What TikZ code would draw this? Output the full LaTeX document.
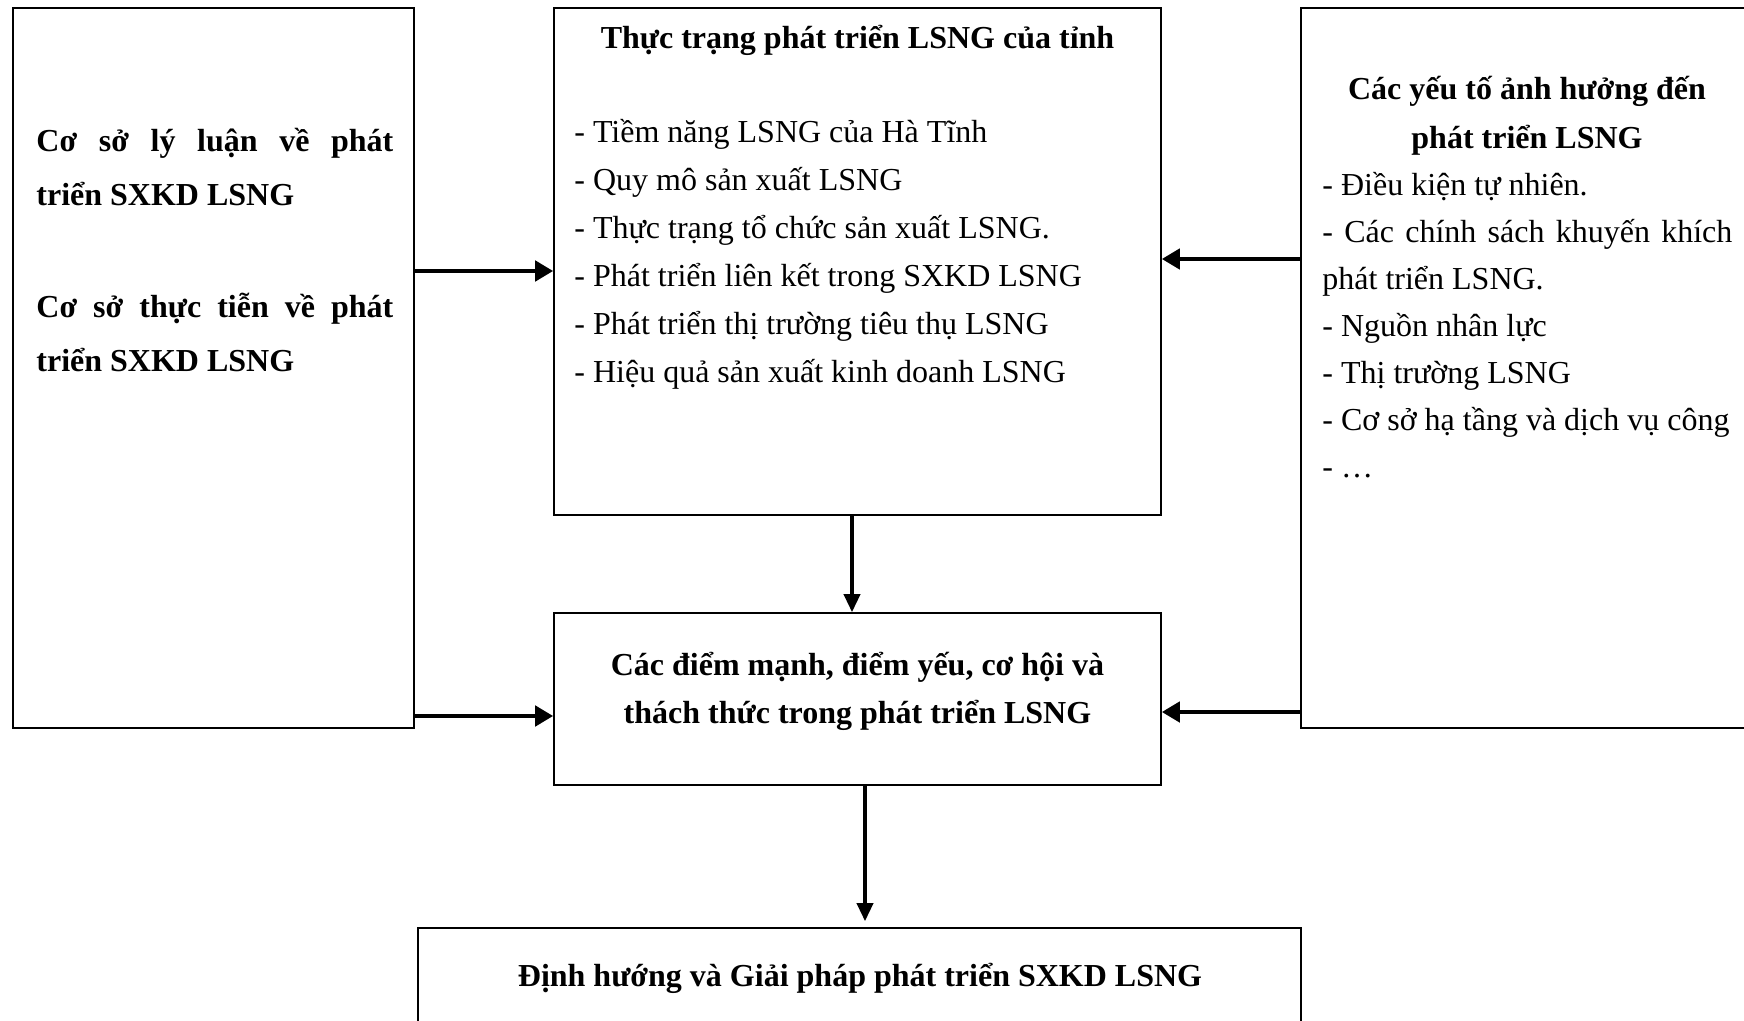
\documentclass[tikz,border=0pt]{standalone}
\usepackage{fontspec}
\setmainfont{Liberation Serif}
\usetikzlibrary{arrows.meta}
\newcommand{\bodyfont}{\fontsize{16}{24}\selectfont}

\begin{document}
\begin{tikzpicture}[x=0.5pt,y=-0.5pt,
    box/.style={draw,line width=0.8pt,inner sep=0pt},
    txt/.style={inner sep=0pt},
    harr/.style={line width=2.4pt,-{Triangle[length=9pt,width=10pt]}},
    varr/.style={line width=1.8pt,-{Triangle[length=9pt,width=8pt]}}]
    \useasboundingbox (0,0) rectangle (1744,1021);
    \node[box,minimum width=200.5pt,minimum height=360pt] (coso) at (213.5,368) {};
    \node[box,minimum width=303.5pt,minimum height=253.5pt] (thuctrang) at (857.5,261.5) {};
    \node[box,minimum width=303.5pt,minimum height=86pt] (swot) at (857.5,699) {};
    \node[box,minimum width=234.5pt,minimum height=360pt] (yeuto) at (1535.5,368) {};
    \node[box,minimum width=441.5pt,minimum height=56pt] (giaiphap) at (859.5,984) {};
    \node[txt,anchor=base west,text width=178.5pt,align=justify,font=\fontsize{16}{27}\selectfont\bfseries,
        ] (cosotext) at (36,152) {Cơ sở lý luận về phát\linebreak triển SXKD LSNG\par\vspace{29pt}Cơ sở thực tiễn về phát\linebreak triển SXKD LSNG};
    \node[txt,anchor=base,font=\bodyfont\bfseries] (tttitle) at (857.5,49) {Thực trạng phát triển LSNG của tỉnh};
    \node[txt,anchor=base west,text width=290pt,align=flush left,font=\bodyfont] (ttlist) at (574,143) {- Tiềm năng LSNG của Hà Tĩnh\\
        - Quy mô sản xuất LSNG\\
        - Thực trạng tổ chức sản xuất LSNG.\\
        - Phát triển liên kết trong SXKD LSNG\\
        - Phát triển thị trường tiêu thụ LSNG\\
        - Hiệu quả sản xuất kinh doanh LSNG};
    \node[txt,anchor=base,text width=205pt,align=flush center,font=\fontsize{16}{24.5}\selectfont\bfseries] (yttitle) at (1527,100) {Các yếu tố ảnh hưởng đến\\phát triển LSNG};
    \node[txt,anchor=base west,text width=205pt,align=justify,font=\fontsize{16}{23.5}\selectfont] (ytlist) at (1322,196) {- Điều kiện tự nhiên.\\
        - Các chính sách khuyến khích\linebreak phát triển LSNG.\\
        - Nguồn nhân lực\\
        - Thị trường LSNG\\
        - Cơ sở hạ tầng và dịch vụ công\\
        - …};
    \node[txt,anchor=base,text width=300pt,align=flush center,font=\bodyfont\bfseries] (swottext) at (857.5,675) {Các điểm mạnh, điểm yếu, cơ hội và\\thách thức trong phát triển LSNG};
    \node[txt,anchor=base,font=\bodyfont\bfseries] (gptext) at (860,986) {Định hướng và Giải pháp phát triển SXKD LSNG};
    \draw[harr] ([yshift=48.5pt]coso.east) -- ([yshift=48.5pt]coso.east -| thuctrang.west);
    \draw[harr] ([yshift=-174pt]coso.east) -- ([yshift=-174pt]coso.east -| swot.west);
    \draw[harr] ([yshift=54.5pt]yeuto.west) -- ([yshift=54.5pt]yeuto.west -| thuctrang.east);
    \draw[harr] ([yshift=-172pt]yeuto.west) -- ([yshift=-172pt]yeuto.west -| swot.east);
    \draw[varr] ([xshift=-2.75pt]thuctrang.south) -- ([xshift=-2.75pt]thuctrang.south |- swot.north);
    \draw[varr,shorten >=3pt] ([xshift=3.75pt]swot.south) -- ([xshift=3.75pt]swot.south |- giaiphap.north);
\end{tikzpicture}
\end{document}
